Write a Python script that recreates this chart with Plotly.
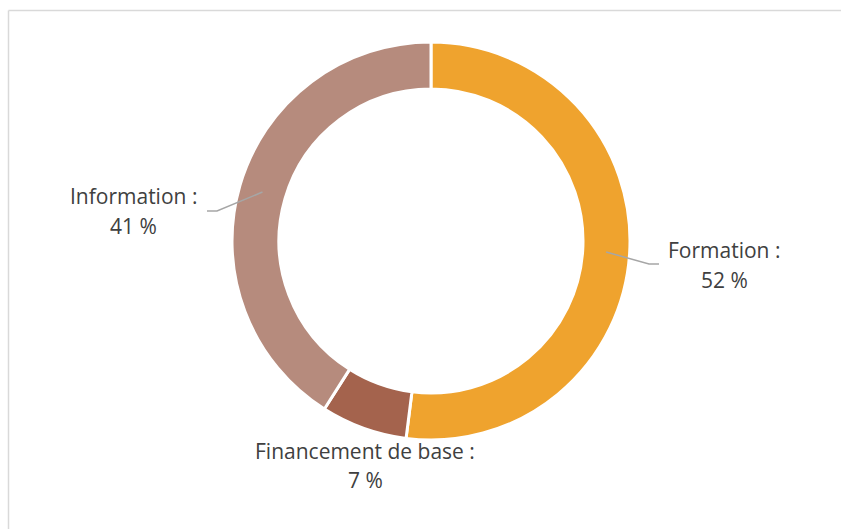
import math
import plotly.graph_objects as go

# ---- data ----
categories = ["Formation", "Financement de base", "Information"]
values = [52, 7, 41]
colors = ["#EFA32E", "#A4634D", "#B68B7D"]

# ---- layout constants (pixels) ----
W, H = 841, 529
CX, CY = 431, 241          # donut centre
R_OUT, R_IN = 199, 152     # radii
TEXT_COLOR = "#404040"
FONT = "Open Sans"
FS = 21

def px(x):
    return x / W

def py(y):
    return 1 - y / H

fig = go.Figure(go.Pie(
    labels=categories,
    values=values,
    sort=False,
    direction="clockwise",
    rotation=0,
    hole=R_IN / R_OUT,
    marker=dict(colors=colors, line=dict(color="white", width=3)),
    textinfo="none",
    hoverinfo="label+percent",
    showlegend=False,
    domain=dict(x=[px(CX - R_OUT), px(CX + R_OUT)],
                y=[py(CY + R_OUT), py(CY - R_OUT)]),
))

# label placement (pixel centres of the two text lines) and leader elbows
label_pos = {
    "Formation": dict(x=724, y1=250, y2=280, elbow=(649, 264), end=(659, 264)),
    "Financement de base": dict(x=365, y1=451, y2=480, elbow=None, end=None),
    "Information": dict(x=133, y1=196, y2=226, elbow=(217, 211), end=(207, 211)),
}

total = sum(values)
annotations = []
shapes = []
cum = 0
for cat, v in zip(categories, values):
    mid = (cum + v / 2) / total * 2 * math.pi
    cum += v
    lp = label_pos[cat]
    annotations.append(dict(x=px(lp["x"]), y=py(lp["y1"]), xref="paper", yref="paper",
                            text=f"{cat} :", showarrow=False, xanchor="center", yanchor="middle",
                            font=dict(family=FONT, size=FS, color=TEXT_COLOR)))
    annotations.append(dict(x=px(lp["x"]), y=py(lp["y2"]), xref="paper", yref="paper",
                            text=f"{v} %", showarrow=False, xanchor="center", yanchor="middle",
                            font=dict(family=FONT, size=FS, color=TEXT_COLOR)))
    if lp["elbow"] is not None:
        rm = (R_OUT + R_IN) / 2
        sx = CX + rm * math.sin(mid)
        sy = CY - rm * math.cos(mid)
        ex, ey = lp["elbow"]
        fx, fy = lp["end"]
        path = f"M {px(sx)} {py(sy)} L {px(ex)} {py(ey)} L {px(fx)} {py(fy)}"
        shapes.append(dict(type="path", xref="paper", yref="paper", path=path,
                           line=dict(color="#A6A6A6", width=1.5)))

# chart frame (left and top edges visible)
shapes.append(dict(type="line", xref="paper", yref="paper",
                   x0=px(8.5), x1=px(8.5), y0=py(10.5), y1=-0.05,
                   line=dict(color="#D9D9D9", width=1.5)))
shapes.append(dict(type="line", xref="paper", yref="paper",
                   x0=px(8.5), x1=1.05, y0=py(10.5), y1=py(10.5),
                   line=dict(color="#D9D9D9", width=1.5)))

fig.update_layout(
    width=W, height=H,
    margin=dict(l=0, r=0, t=0, b=0),
    paper_bgcolor="white",
    plot_bgcolor="white",
    annotations=annotations,
    shapes=shapes,
)

fig.write_html("out.html")
